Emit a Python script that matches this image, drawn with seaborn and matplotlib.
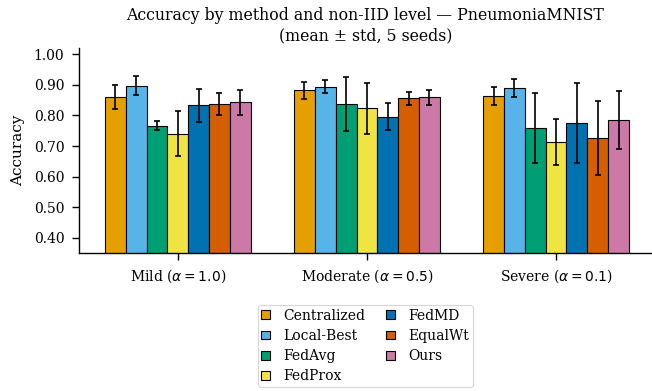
import numpy as np
import pandas as pd
import matplotlib
matplotlib.use("Agg")
import matplotlib.pyplot as plt
import seaborn as sns

levels = ["Mild ($\\alpha = 1.0$)", "Moderate ($\\alpha = 0.5$)", "Severe ($\\alpha = 0.1$)"]
methods = ["Centralized", "Local-Best", "FedAvg", "FedProx", "FedMD", "EqualWt", "Ours"]
colors = ["#E69F00", "#56B4E9", "#009E73", "#F0E442", "#0072B2", "#D55E00", "#CC79A7"]

# mean accuracy per method, one value per non-IID level
means = {
    "Centralized": [0.861, 0.882, 0.865],
    "Local-Best":  [0.897, 0.894, 0.890],
    "FedAvg":      [0.767, 0.838, 0.759],
    "FedProx":     [0.740, 0.823, 0.713],
    "FedMD":       [0.833, 0.796, 0.777],
    "EqualWt":     [0.837, 0.856, 0.725],
    "Ours":        [0.843, 0.860, 0.786],
}
stds = {
    "Centralized": [0.040, 0.027, 0.029],
    "Local-Best":  [0.031, 0.021, 0.030],
    "FedAvg":      [0.015, 0.089, 0.116],
    "FedProx":     [0.074, 0.082, 0.075],
    "FedMD":       [0.053, 0.045, 0.131],
    "EqualWt":     [0.037, 0.020, 0.121],
    "Ours":        [0.040, 0.024, 0.095],
}

rows = []
for m in methods:
    for i, lv in enumerate(levels):
        rows.append({"level": lv, "method": m, "acc": means[m][i], "std": stds[m][i]})
df = pd.DataFrame(rows)

sns.set_theme(style="ticks", context="paper")
plt.rcParams["font.family"] = ["DejaVu Serif"]
plt.rcParams["mathtext.fontset"] = "dejavusans"
for k in ["axes.edgecolor", "xtick.color", "ytick.color", "text.color", "axes.labelcolor"]:
    plt.rcParams[k] = "black"

fig = plt.figure(figsize=(6.52, 3.91), dpi=100)
ax = fig.add_axes([0.1207, 0.353, 0.8793, 0.5235])

sns.barplot(data=df, x="level", y="acc", hue="method", order=levels, hue_order=methods,
            palette=colors, width=0.77, edgecolor="black", linewidth=0.8,
            saturation=1, errorbar=None, ax=ax)

# precomputed std as error bars, one container per method
for cont, m in zip(ax.containers, methods):
    xs = [b.get_x() + b.get_width() / 2 for b in cont]
    ax.errorbar(xs, means[m], yerr=stds[m], fmt="none", ecolor="black",
                elinewidth=1.2, capsize=2.5, capthick=1.2, zorder=5)

ax.set_xlim(-0.5235, 2.507)
ax.set_ylim(0.35, 1.02)
ax.set_yticks(np.arange(0.4, 1.01, 0.1))
ax.yaxis.set_major_formatter(matplotlib.ticker.FormatStrFormatter("%.2f"))
ax.tick_params(labelsize=10, length=4.8, width=1.0, pad=5.6)
for s in ax.spines.values():
    s.set_linewidth(1.0)
ax.set_xlabel("")
ax.set_ylabel("Accuracy", fontsize=11, labelpad=6)
ax.set_title("Accuracy by method and non-IID level — PneumoniaMNIST\n(mean ± std, 5 seeds)",
             fontsize=11.3, pad=6)
sns.despine(ax=ax)

ax.legend(loc="upper center", bbox_to_anchor=(0.5, -0.255), ncol=2, fontsize=10,
          frameon=True, borderaxespad=0, borderpad=0.25, labelspacing=0.45,
          handlelength=0.6, handleheight=0.6, handletextpad=1.0, columnspacing=1.5)

fig.savefig("out.png", dpi=100)
